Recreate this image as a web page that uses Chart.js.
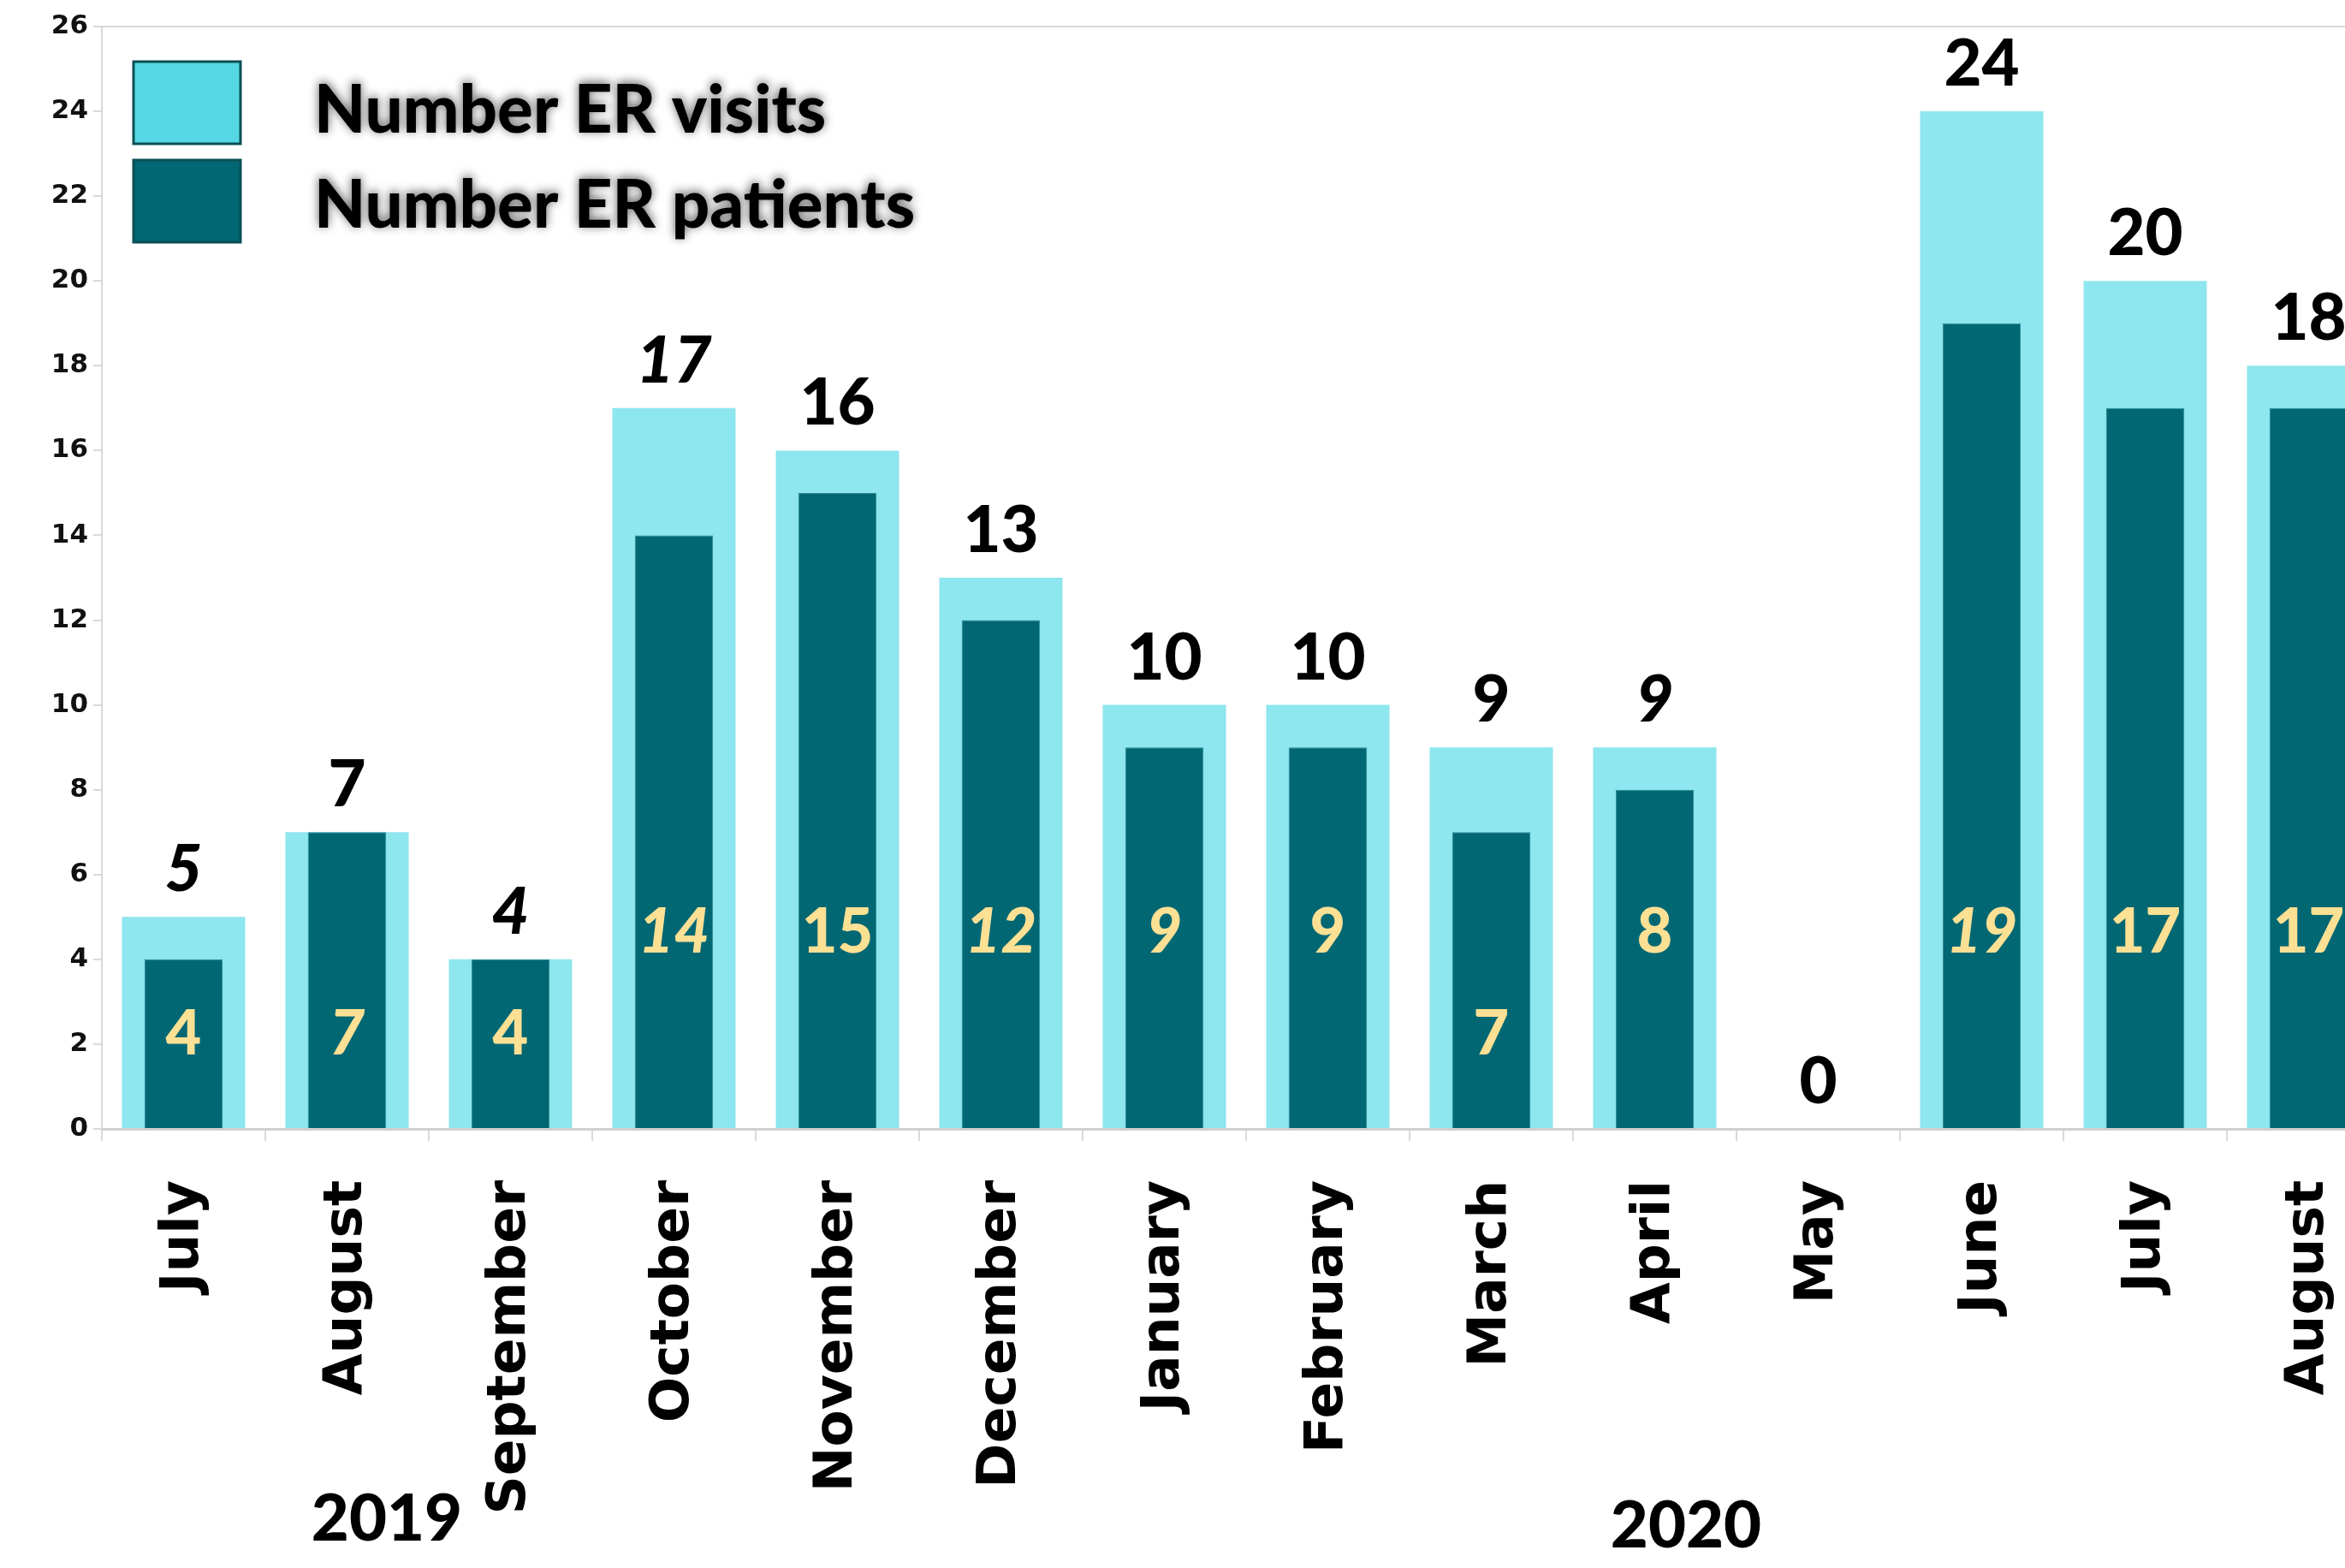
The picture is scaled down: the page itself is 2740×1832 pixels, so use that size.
<!DOCTYPE html>
<html>
<head>
<meta charset="utf-8">
<script src="https://cdn.jsdelivr.net/npm/chart.js@4.4.1/dist/chart.umd.min.js"></script>
<style>
    html, body { margin: 0; padding: 0; background: #ffffff; overflow: hidden; }
    #contenedor { position: relative; width: 2793px; height: 1832px; }
</style>
</head>
<body>
<div id="contenedor"><canvas id="chartVisitas"></canvas></div>
<script>
const meses = ['July', 'August', 'September', 'October', 'November', 'December',
    'January', 'February', 'March', 'April', 'May', 'June', 'July', 'August'];
const visitas = [5, 7, 4, 17, 16, 13, 10, 10, 9, 9, 0, 24, 20, 18];
const pacientes = [4, 7, 4, 14, 15, 12, 9, 9, 7, 8, 0, 19, 17, 17];
const ticksY = [0, 2, 4, 6, 8, 10, 12, 14, 16, 18, 20, 22, 24, 26];
const anios = ['2019', '2020'];

// which value labels are written in italics in the original
const cursivaVisitas = [0, 2, 3, 9];
const cursivaPacientes = [1, 3, 5, 6, 11];

const colorVisitas = '#8ee6ee';
const colorPacientes = '#006773';

function texto(ctx, t, x, y, fuente, color, align) {
    ctx.save();
    ctx.font = fuente;
    ctx.fillStyle = color;
    ctx.textAlign = align || 'center';
    ctx.textBaseline = 'alphabetic';
    ctx.fillText(t, x, y);
    ctx.restore();
}

const etiquetasPlugin = {
    id: 'etiquetas',
    afterDatasetsDraw: function (chart) {
        const ctx = chart.ctx;
        const escalaY = chart.scales.y;
        chart.getDatasetMeta(0).data.forEach(function (bar, i) {
            let f = (cursivaVisitas.includes(i) ? 'italic ' : '') + '900 76px Lato';
            texto(ctx, String(visitas[i]), bar.x, bar.y - 30, f, '#000000');
        });
        chart.getDatasetMeta(1).data.forEach(function (bar, i) {
            if (pacientes[i] === 0) return;
            let f = (cursivaPacientes.includes(i) ? 'italic ' : '') + '900 72px Lato';
            let yc = escalaY.getPixelForValue(pacientes[i] > 7 ? 4.7 : 2.3);
            texto(ctx, String(pacientes[i]), bar.x, yc + 27, f, '#fce094');
        });
    },
    afterDraw: function (chart) {
        const ctx = chart.ctx;
        // legend inside the plot
        const cajas = [
            { y: 72, fill: '#55d8e3', txt: chart.data.datasets[0].label, ty: 155 },
            { y: 187, fill: colorPacientes, txt: chart.data.datasets[1].label, ty: 266 }
        ];
        cajas.forEach(function (c) {
            ctx.save();
            ctx.fillStyle = c.fill;
            ctx.fillRect(156, c.y, 125, 96);
            ctx.strokeStyle = '#0b4f55';
            ctx.lineWidth = 3;
            ctx.strokeRect(156, c.y, 125, 96);
            ctx.restore();
            ctx.save();
            ctx.shadowColor = 'rgba(0,0,0,0.65)';
            ctx.shadowBlur = 12;
            ctx.shadowOffsetX = 0;
            ctx.shadowOffsetY = -2;
            texto(ctx, c.txt, 367, c.ty, '900 78px Lato', '#000000', 'left');
            ctx.restore();
        });
        // years under the month labels
        texto(ctx, anios[0], 452, 1800, '900 76px Lato', '#000000');
        texto(ctx, anios[1], 1970, 1808, '900 76px Lato', '#000000');
    }
};

new Chart(document.getElementById('chartVisitas').getContext('2d'), {
    type: 'bar',
    data: {
        labels: meses,
        datasets: [{
            label: 'Number ER visits',
            data: visitas,
            backgroundColor: colorVisitas,
            borderWidth: 0,
            barPercentage: 0.754,
            categoryPercentage: 1,
            grouped: false,
            order: 2
        },
        {
            label: 'Number ER patients',
            data: pacientes,
            backgroundColor: colorPacientes,
            borderColor: '#2f8a93',
            borderWidth: 1,
            barPercentage: 0.479,
            categoryPercentage: 1,
            grouped: false,
            order: 1
        }]
    },
    options: {
        responsive: true,
        maintainAspectRatio: false,
        animation: false,
        layout: { padding: { top: 31, right: 0, bottom: 0, left: 0 } },
        plugins: {
            legend: { display: false },
            tooltip: { enabled: false }
        },
        scales: {
            x: {
                afterFit: function (s) {
                    s.height = 513;
                    s.paddingLeft = 0;
                    s.paddingRight = 0;
                },
                grid: {
                    offset: true,
                    drawOnChartArea: false,
                    tickLength: 14,
                    color: '#d9d9d9',
                    lineWidth: 2
                },
                border: { color: '#d0d0d0', width: 3 },
                ticks: {
                    autoSkip: false,
                    minRotation: 90,
                    maxRotation: 90,
                    padding: 46,
                    color: '#000000',
                    font: { family: 'DejaVu Sans', weight: 'bold', size: 63 }
                }
            },
            y: {
                min: 0,
                max: 26,
                afterFit: function (s) { s.width = 119; },
                afterBuildTicks: function (s) { s.ticks = ticksY.map(function (v) { return { value: v }; }); },
                grid: {
                    color: function (c) { return c.tick && c.tick.value === 26 ? '#d9d9d9' : 'rgba(0,0,0,0)'; },
                    tickColor: '#d9d9d9',
                    tickLength: 10,
                    lineWidth: 2
                },
                border: { color: '#d9d9d9', width: 2 },
                ticks: {
                    padding: 6,
                    color: '#111111',
                    font: { family: 'DejaVu Sans', weight: 'bold', size: 31 }
                }
            }
        }
    },
    plugins: [etiquetasPlugin]
});
</script>
</body>
</html>
